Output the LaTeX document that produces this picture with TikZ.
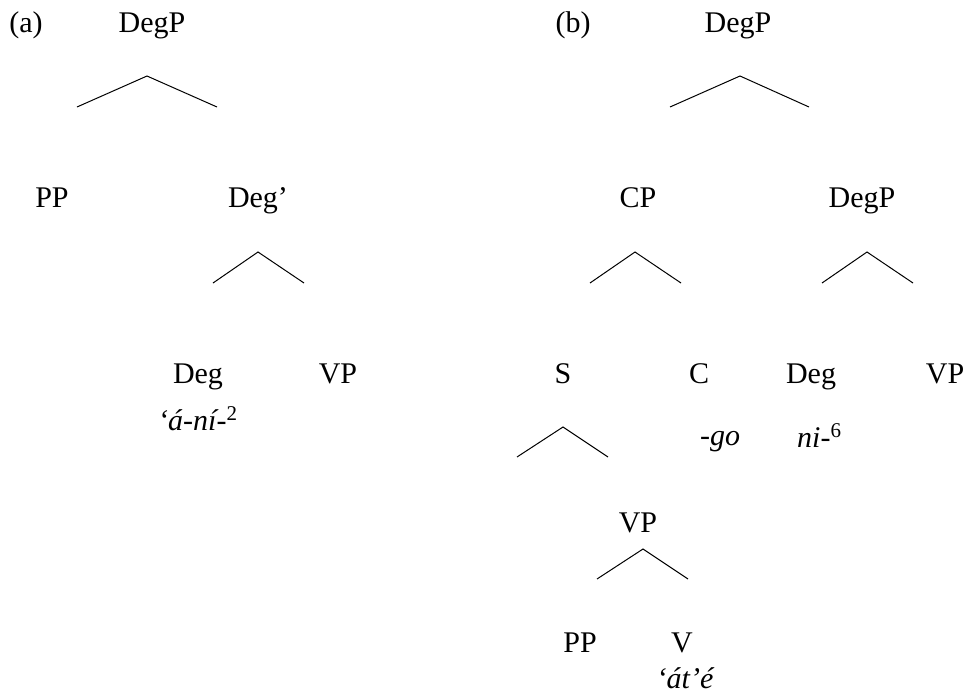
\documentclass[tikz,border=0pt]{standalone}
\usepackage{fontspec}
\setmainfont{Liberation Serif}
\begin{document}
\begin{tikzpicture}[x=1pt,y=-1pt,
  lbl/.style={anchor=base, inner sep=0pt, font=\fontsize{30}{36}\selectfont},
  lblw/.style={anchor=base west, inner sep=0pt, font=\fontsize{30}{36}\selectfont\itshape},
  gl/.style={anchor=base, inner sep=0pt, font=\fontsize{30}{36}\selectfont\itshape},
  br/.style={line width=1pt, line join=miter}]
\useasboundingbox (0,0) rectangle (968,694);
% (a)
\node[lbl] (la) at (26,32) {(a)};
\node[lbl] (aDegP) at (152,32) {DegP};
\node[lbl] (aPP) at (52,207) {PP};
\node[lbl] (aDegbar) at (258,207) {Deg’};
\node[lbl] (aDeg) at (198,383) {Deg};
\node[lbl] (aVP) at (338,383) {VP};
\node[lblw] (agl) at (158,430) {‘á-ní-\textsuperscript{\upshape 2}};
\coordinate (a1t) at (147,76); \coordinate (a1l) at (77,107); \coordinate (a1r) at (217,107);
\coordinate (a2t) at (258,252); \coordinate (a2l) at (213,283); \coordinate (a2r) at (304,283);
\draw[br] (a1l) -- (a1t) -- (a1r);
\draw[br] (a2l) -- (a2t) -- (a2r);
% (b)
\node[lbl] (lb) at (573,32) {(b)};
\node[lbl] (bDegP) at (738,32) {DegP};
\node[lbl] (bCP) at (638,207) {CP};
\node[lbl] (bDegP2) at (862,207) {DegP};
\node[lbl] (bS) at (563,383) {S};
\node[lbl] (bC) at (699,383) {C};
\node[lbl] (bDeg) at (811,383) {Deg};
\node[lbl] (bVP) at (945,383) {VP};
\node[gl] (bgo) at (720,445) {-go};
\node[lblw] (bni) at (797,447) {ni-\textsuperscript{\upshape 6}};
\node[lbl] (bVP2) at (638,532) {VP};
\node[lbl] (bPP) at (580,652) {PP};
\node[lbl] (bV) at (682,652) {V};
\node[gl] (bate) at (685,688) {‘át’é};
\coordinate (b1t) at (740,76); \coordinate (b1l) at (670,107); \coordinate (b1r) at (809,107);
\coordinate (b2t) at (635,252); \coordinate (b2l) at (590,283); \coordinate (b2r) at (681,283);
\coordinate (b3t) at (867,252); \coordinate (b3l) at (822,283); \coordinate (b3r) at (913,283);
\coordinate (b4t) at (563,427); \coordinate (b4l) at (517,457); \coordinate (b4r) at (608,457);
\coordinate (b5t) at (643,549); \coordinate (b5l) at (597,579); \coordinate (b5r) at (688,579);
\draw[br] (b1l) -- (b1t) -- (b1r);
\draw[br] (b2l) -- (b2t) -- (b2r);
\draw[br] (b3l) -- (b3t) -- (b3r);
\draw[br] (b4l) -- (b4t) -- (b4r);
\draw[br] (b5l) -- (b5t) -- (b5r);
\end{tikzpicture}
\end{document}
